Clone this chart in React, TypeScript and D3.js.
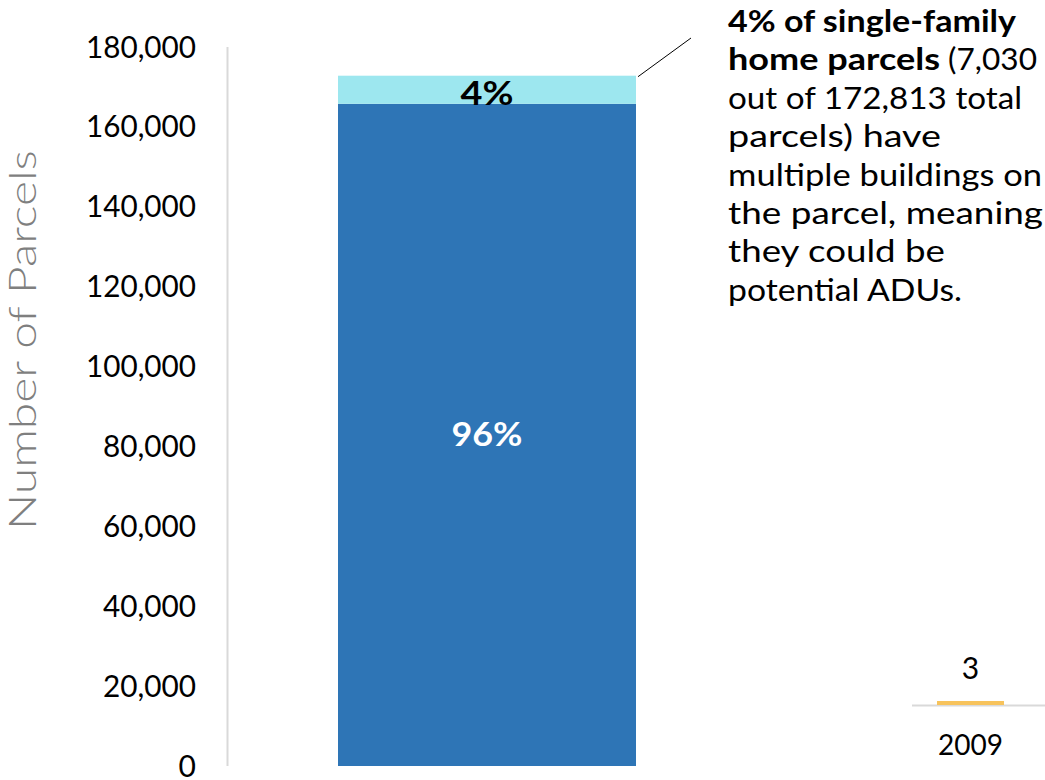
import React from "react";
import * as d3 from "d3";

const categories = ["Single-family parcels"];
const singleBuilding = [165783];
const multipleBuildings = [7030];
const segmentLabels = ["96%", "4%"];
const yTicks = [0, 20000, 40000, 60000, 80000, 100000, 120000, 140000, 160000, 180000];
const miniCategories = ["2009"];
const miniValues = [3];
const annotationLines: { bold: string; normal: string }[] = [
  { bold: "4% of single-family", normal: "" },
  { bold: "home parcels", normal: " (7,030" },
  { bold: "", normal: "out of 172,813 total" },
  { bold: "", normal: "parcels) have" },
  { bold: "", normal: "multiple buildings on" },
  { bold: "", normal: "the parcel, meaning" },
  { bold: "", normal: "they could be" },
  { bold: "", normal: "potential ADUs." },
];
// measured widths of the annotation segments in the reference
const boldWidths = [288, 212, 0, 0, 0, 0, 0, 0];
const normalWidths = [0, 97, 294, 213, 314, 315, 217, 234];
const labelWidths = [71, 53];

const W = 1045;
const H = 780;
const FONT = "Lato, 'DejaVu Sans', sans-serif";

export default function App() {
  const y = d3.scaleLinear().domain([0, 180000]).range([766, 47]);
  const x = d3.scaleBand().domain(categories).range([227, 747]).paddingInner(0).paddingOuter(0.3725);
  const fmt = d3.format(",");

  const stacked = d3.stack<number>().keys(["a", "b"]).value((_d, key) =>
    key === "a" ? singleBuilding[_d] : multipleBuildings[_d]
  )(categories.map((_, i) => i));

  const colors = ["#2e75b6", "#9de7ef"];

  const miniX = d3.scaleBand().domain(miniCategories).range([912, 1029]).paddingInner(0).paddingOuter(0.373);
  const miniY = d3.scaleLinear().domain([0, 3]).range([705, 701]);

  const total = singleBuilding[0] + multipleBuildings[0];
  const barRight = (x(categories[0]) || 0) + x.bandwidth();

  return (
    <svg width={W} height={H} style={{ position: "absolute", left: 0, top: 0, background: "#fff" }}>
      <text
        transform={`translate(36,340) rotate(-90)`}
        textAnchor="middle"
        fontFamily={FONT}
        fontWeight={300}
        fontSize={37}
        fill="#7f7f7f"
        textLength={380}
        lengthAdjust="spacingAndGlyphs"
      >
        Number of Parcels
      </text>
      {yTicks.map((t) => (
        <text
          key={t}
          x={196}
          y={y(t)}
          dy="0.35em"
          textAnchor="end"
          fontFamily={FONT}
          fontSize={30}
          fill="#000"
          textLength={t === 0 ? undefined : t < 100000 ? 93 : 110}
          lengthAdjust="spacingAndGlyphs"
        >
          {fmt(t)}
        </text>
      ))}
      <line x1={227.5} x2={227.5} y1={y(180000)} y2={y(0)} stroke="#d9d9d9" strokeWidth={2} />
      {stacked.map((s, si) =>
        s.map((d, i) => (
          <rect
            key={`${si}-${i}`}
            x={x(categories[i])}
            width={x.bandwidth()}
            y={y(d[1])}
            height={y(d[0]) - y(d[1])}
            fill={colors[si]}
          />
        ))
      )}
      {stacked.map((s, si) =>
        s.map((d, i) => {
          const mid = si === 0 ? y((d[0] + d[1]) / 2) : y(d[1]) + 18;
          return (
            <text
              key={`l${si}-${i}`}
              x={(x(categories[i]) || 0) + x.bandwidth() / 2}
              y={mid}
              dy="0.35em"
              textAnchor="middle"
              fontFamily={FONT}
              fontWeight="bold"
              fontSize={33}
              fill={si === 0 ? "#fff" : "#000"}
              textLength={labelWidths[si]}
              lengthAdjust="spacingAndGlyphs"
            >
              {segmentLabels[si]}
            </text>
          );
        })
      )}
      <line x1={barRight + 2} y1={y(total) + 1} x2={691} y2={38} stroke="#000" strokeWidth={1} />
      {annotationLines.map((l, i) => (
        <text key={i} x={728} y={32 + i * 38.4} fontFamily={FONT} fontSize={30} fill="#000">
          {l.bold && (
            <tspan fontWeight="bold" textLength={boldWidths[i]} lengthAdjust="spacingAndGlyphs">
              {l.bold}
            </tspan>
          )}
          {l.normal && (
            <tspan textLength={normalWidths[i]} lengthAdjust="spacingAndGlyphs">
              {l.normal}
            </tspan>
          )}
        </text>
      ))}
      <line x1={912} x2={1045} y1={705.5} y2={705.5} stroke="#d9d9d9" strokeWidth={2} />
      {miniCategories.map((c, i) => (
        <g key={c}>
          <rect
            x={miniX(c)}
            width={miniX.bandwidth()}
            y={miniY(miniValues[i])}
            height={miniY(0) - miniY(miniValues[i])}
            fill="#f7c35c"
          />
          <text x={(miniX(c) || 0) + miniX.bandwidth() / 2} y={668} dy="0.35em" textAnchor="middle" fontFamily={FONT} fontSize={30}>
            {miniValues[i]}
          </text>
          <text x={(miniX(c) || 0) + miniX.bandwidth() / 2} y={745} dy="0.35em" textAnchor="middle" fontFamily={FONT} fontSize={28}>
            {c}
          </text>
        </g>
      ))}
    </svg>
  );
}
